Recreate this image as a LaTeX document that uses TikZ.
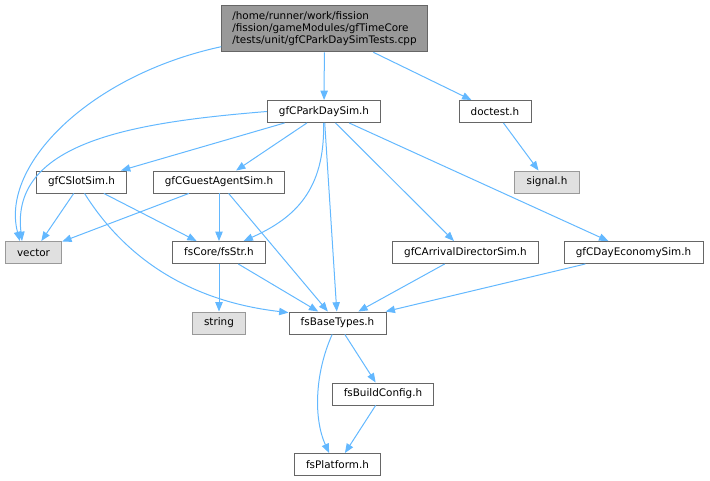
\documentclass[tikz,border=0pt]{standalone}
\usepackage{fontspec}
\setmainfont{DejaVu Sans}
\usepackage{tikz}
\usetikzlibrary{arrows.meta}
\definecolor{edgeblue}{HTML}{63B8FF}
\definecolor{boxline}{HTML}{666666}
\definecolor{sysline}{HTML}{999999}
\definecolor{sysfill}{HTML}{E0E0E0}

\begin{document}
\begin{tikzpicture}[
	x=0.75pt, y=-0.75pt,
	font=\fontsize{7.8}{9}\selectfont,
	file/.style={draw=boxline, fill=white, line width=0.7pt, inner xsep=8.8pt, inner ysep=0pt, minimum height=16.5pt},
	sysfile/.style={file, draw=sysline, fill=sysfill},
	rootfile/.style={file, fill=sysline, align=left, inner xsep=8pt, minimum height=35pt},
	dep/.style={draw=edgeblue, line width=0.75pt, -{Triangle[length=7pt,width=5.5pt]}}
	]
	\useasboundingbox (0,0) rectangle (710,481);
	% files
	\node[rootfile] (root) at (324.5,28.5) {/home/runner/work/fission\\/fission/gameModules/gfTimeCore\\/tests/unit/gfCParkDaySimTests.cpp};
	\node[file] (parkday) at (324,111.5) {gfCParkDaySim.h};
	\node[file] (doctest) at (495,111.5) {doctest.h};
	\node[sysfile] (signal) at (547,182) {signal.h};
	\node[file] (slotsim) at (81.5,182) {gfCSlotSim.h};
	\node[file] (guestsim) at (219,182) {gfCGuestAgentSim.h};
	\node[sysfile] (vector) at (33.5,252.5) {vector};
	\node[file] (fsstr) at (219,252.5) {fsCore/fsStr.h};
	\node[file] (arrival) at (465.5,252.5) {gfCArrivalDirectorSim.h};
	\node[file] (economy) at (633.5,252.5) {gfCDayEconomySim.h};
	\node[sysfile] (string) at (219,323) {string};
	\node[file] (basetypes) at (337.5,323) {fsBaseTypes.h};
	\node[file] (buildcfg) at (383,394) {fsBuildConfig.h};
	\node[file] (platform) at (337.5,464.5) {fsPlatform.h};
	% includes
	\draw[dep] (root.190) .. controls (90,75) and (0,165) .. (vector.140);
	\draw[dep] (root) -- (parkday);
	\draw[dep] (root) -- (doctest);
	\draw[dep] (doctest) -- (signal);
	\draw[dep] (parkday.west) .. controls (140,122) and (10,140) .. (vector.135);
	\draw[dep] (parkday) -- (slotsim);
	\draw[dep] (parkday) -- (guestsim);
	\draw[dep] (parkday.-92) .. controls (325,190) and (295,218) .. (fsstr.25);
	\draw[dep] (parkday) -- (basetypes);
	\draw[dep] (parkday) -- (arrival);
	\draw[dep] (parkday) -- (economy);
	\draw[dep] (slotsim) -- (vector);
	\draw[dep] (slotsim) -- (fsstr);
	\draw[dep] (slotsim.-75) .. controls (120,250) and (180,300) .. (basetypes.168);
	\draw[dep] (guestsim) -- (vector);
	\draw[dep] (guestsim) -- (fsstr);
	\draw[dep] (guestsim) -- (basetypes);
	\draw[dep] (fsstr) -- (string);
	\draw[dep] (fsstr) -- (basetypes);
	\draw[dep] (arrival) -- (basetypes);
	\draw[dep] (economy) -- (basetypes);
	\draw[dep] (basetypes) -- (buildcfg);
	\draw[dep] (basetypes.-115) .. controls (314,375) and (314,420) .. (platform.126);
	\draw[dep] (buildcfg) -- (platform);
\end{tikzpicture}
\end{document}
